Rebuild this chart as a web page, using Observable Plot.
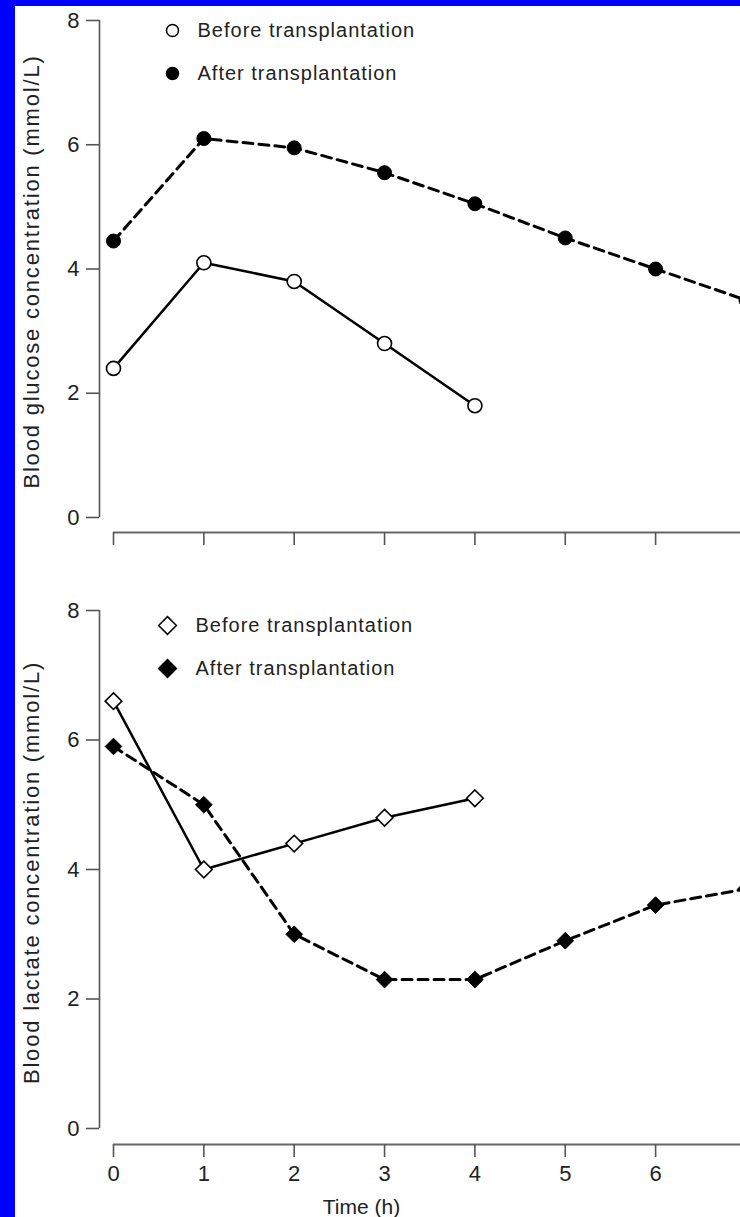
<!DOCTYPE html>
<html><head><meta charset="utf-8">
<script src="https://cdn.jsdelivr.net/npm/d3@7"></script>
<script src="https://cdn.jsdelivr.net/npm/@observablehq/plot@0.6"></script>
<style>
html,body{margin:0;padding:0;background:#0000ff;width:740px;height:1217px;overflow:hidden;}
#page{position:absolute;left:15px;top:6px;width:725px;height:1211px;background:#fff;overflow:hidden;}
#page svg{display:block;}
</style></head><body><div id="page"></div>
<script>
const hours = [0, 1, 2, 3, 4, 5, 6, 7];
const glucoseBefore = [2.4, 4.1, 3.8, 2.8, 1.8];
const glucoseAfter = [4.45, 6.1, 5.95, 5.55, 5.05, 4.5, 4.0, 3.5];
const lactateBefore = [6.6, 4.0, 4.4, 4.8, 5.1];
const lactateAfter = [5.9, 5.0, 3.0, 2.3, 2.3, 2.9, 3.45, 3.7];
const seriesLabels = ["Before transplantation", "After transplantation"];
const yTicks = [0, 2, 4, 6, 8];
const yLabels = ["Blood glucose concentration (mmol/L)", "Blood lactate concentration (mmol/L)"];
const xLabel = "Time (h)";

const FONT = "'Liberation Sans', Arial, sans-serif";

function makePanel(cfg) {
  const before = cfg.before.map((v, i) => ({t: hours[i], v}));
  const after = cfg.after.map((v, i) => ({t: hours[i], v}));
  const legendMarks = seriesLabels.flatMap((lab, i) => [
    Plot.dot([lab], {frameAnchor: "top-left", dx: cfg.legendDx, dy: cfg.legendDy[i], r: cfg.legendR,
      symbol: cfg.symbol, fill: i ? "black" : "white", stroke: "black", strokeWidth: 1.5}),
    Plot.text([lab], {frameAnchor: "top-left", dx: cfg.textDx, dy: cfg.legendDy[i], text: d => d,
      textAnchor: "start", lineAnchor: "middle", fontSize: 20, fill: "#222"})
  ]);
  const marks = [
    Plot.ruleX([0], {y1: 0, y2: 8, dx: -14, stroke: "#555", strokeWidth: 1.6}),
    Plot.ruleY([0], {x1: 0, x2: 8, dy: cfg.insetBottom, stroke: "#666", strokeWidth: 2.2}),
    Plot.axisY({ticks: yTicks, tickSize: 13, tickPadding: 7, label: null, stroke: "#555",
      strokeWidth: 1.6, fill: "#222", fontSize: 22}),
    Plot.axisX({ticks: hours, tickSize: 13, tickPadding: 8, label: null, stroke: "#555",
      strokeWidth: 1.6, fill: "#222", fontSize: 22,
      tickFormat: cfg.showX ? (d => String(d)) : (() => "")}),
    Plot.text([cfg.yLabel], {frameAnchor: "left", rotate: -90, dx: -68, dy: cfg.yLabelDy,
      textAnchor: "middle", lineAnchor: "middle", fontSize: 22, fill: "#222"}),
    ...legendMarks,
    Plot.line(after, {x: "t", y: "v", stroke: "black", strokeWidth: 3, strokeDasharray: "10,6"}),
    Plot.line(before, {x: "t", y: "v", stroke: "black", strokeWidth: 2.5}),
    Plot.dot(after, {x: "t", y: "v", r: cfg.r, symbol: cfg.symbol, fill: "black", stroke: "black", strokeWidth: 1}),
    Plot.dot(before, {x: "t", y: "v", r: cfg.r, symbol: cfg.symbol, fill: "white", stroke: "black", strokeWidth: 1.6})
  ];
  if (cfg.showX) {
    marks.push(Plot.text([xLabel], {frameAnchor: "bottom-left", dx: 262, dy: 63, text: d => d,
      textAnchor: "middle", lineAnchor: "middle", fontSize: 21, fill: "#222"}));
  }
  const svg = Plot.plot({
    width: 740, height: cfg.height,
    marginLeft: 84, marginRight: 9.55, marginTop: cfg.marginTop, marginBottom: cfg.marginBottom,
    style: {fontFamily: FONT, fontSize: "22px", background: "transparent", maxWidth: "none", overflow: "visible"},
    x: {domain: [0, 7], insetLeft: 14},
    y: {domain: [0, 8], insetBottom: cfg.insetBottom},
    marks
  });
  d3.select(svg).selectAll("text").each(function() {
    const t = this.textContent;
    if (seriesLabels.includes(t)) this.style.letterSpacing = "1px";
    else if (yLabels.includes(t)) this.style.letterSpacing = "1.8px";
    else if (/^\d$/.test(t)) this.style.fontSize = "22px";
  });
  return svg;
}

const page = document.getElementById("page");
page.appendChild(makePanel({
  before: glucoseBefore, after: glucoseAfter, symbol: "circle", r: 7, legendR: 6,
  yLabel: yLabels[0], height: 570, marginTop: 14, marginBottom: 44, insetBottom: 15,
  showX: false, legendDx: 73, legendDy: [10, 53], textDx: 98, yLabelDy: -5
}));
page.appendChild(makePanel({
  before: lactateBefore, after: lactateAfter, symbol: "diamond2", r: 7.5, legendR: 8,
  yLabel: yLabels[1], height: 641, marginTop: 34, marginBottom: 73, insetBottom: 16,
  showX: true, legendDx: 68, legendDy: [15, 58], textDx: 96, yLabelDy: -5
}));
</script></body></html>
